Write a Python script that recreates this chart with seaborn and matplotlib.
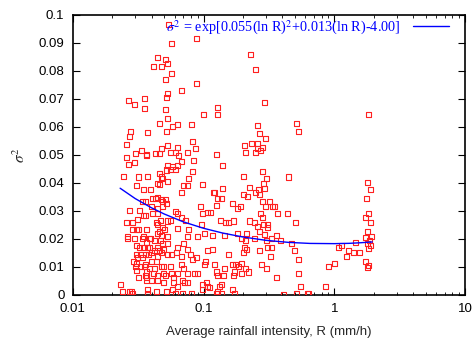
import matplotlib
matplotlib.use("Agg")
import matplotlib.pyplot as plt
import seaborn as sns
import pandas as pd

# ---- data ----
rain_R = [
    0.0268, 0.0297, 0.0354, 0.0354, 0.0277, 0.0272, 0.0374, 0.0258, 0.0336, 0.0302, 0.0367,
    0.0258, 0.0367, 0.0268, 0.0297, 0.0245, 0.0319, 0.0374, 0.0308, 0.0348, 0.0394,
    0.0342, 0.0272, 0.0325, 0.0348, 0.0361, 0.0313, 0.0287, 0.0258, 0.0287, 0.0308,
    0.0319, 0.0367, 0.0263, 0.0263, 0.0297, 0.0348, 0.0342, 0.0387, 0.0367, 0.0308,
    0.0325, 0.0348, 0.0374, 0.0308, 0.0330, 0.0361, 0.0380, 0.0313, 0.0342, 0.0292,
    0.0308, 0.0302, 0.0330, 0.0361, 0.0354, 0.0367, 0.0308, 0.0319, 0.0367, 0.0232,
    0.0241, 0.0282, 0.0272, 0.0287, 0.0374, 0.0374,
    0.0541, 0.0883, 0.0570, 0.0446, 0.0513, 0.0531, 0.0415, 0.0478, 0.0570, 0.0513,
    0.0883, 0.0679, 0.0531, 0.0522, 0.0513, 0.1000, 0.0531, 0.0462, 0.0633, 0.0580,
    0.0809, 0.0522, 0.0823, 0.0531, 0.0478, 0.0633, 0.0868, 0.0430, 0.0462, 0.0560,
    0.0611, 0.0754,
    0.0644, 0.0838, 0.0531, 0.0580, 0.0633, 0.0679, 0.0462, 0.0478, 0.0522, 0.0560,
    0.0611, 0.0487, 0.0531, 0.0446, 0.0462, 0.0823, 0.0768, 0.0754, 0.0703, 0.0679,
    0.0982, 0.1190, 0.0408, 0.0430, 0.0446, 0.0478, 0.0513, 0.0487, 0.0522, 0.0361,
    0.0401, 0.0446, 0.0487, 0.0408, 0.0446, 0.0611, 0.0633, 0.0948, 0.0982, 0.1073,
    0.0679, 0.0728, 0.0470, 0.0531, 0.0560, 0.0438, 0.0446, 0.0487, 0.0462, 0.0504,
    0.0633, 0.0768, 0.0965, 0.1018, 0.0446, 0.0478, 0.0531, 0.0754, 0.0899, 0.0423,
    0.0394, 0.0470, 0.0387, 0.0446, 0.0487, 0.0531, 0.0703, 0.0633, 0.0754, 0.1073,
    0.0401, 0.0423, 0.0462, 0.0495, 0.0478, 0.0446, 0.0531, 0.0570, 0.0622, 0.0679,
    0.0795, 0.0883, 0.0823, 0.1036, 0.1018, 0.0401, 0.0438, 0.0423, 0.0387, 0.0478,
    0.0495, 0.0560, 0.0679, 0.0703, 0.0361, 0.0415, 0.0446, 0.0495, 0.0513, 0.0570,
    0.0590, 0.0633, 0.0754, 0.0853, 0.0899, 0.0367, 0.0401, 0.0446, 0.0495, 0.0590,
    0.0691, 0.0716, 0.0754, 0.0982, 0.1054, 0.1073, 0.0982, 0.0633, 0.0580, 0.0522,
    0.0438, 0.0374, 0.0611, 0.0691, 0.0809,
    0.228, 0.249, 0.291, 0.128, 0.128, 0.258, 0.267, 0.296, 0.232, 0.258,
    0.205, 0.281, 0.258, 0.209, 0.249, 0.271, 0.126,
    0.140, 0.202, 0.281, 0.301, 0.286, 0.291, 0.224, 0.140, 0.121, 0.128,
    0.137, 0.202, 0.216, 0.249, 0.262, 0.267, 0.281, 0.317, 0.334, 0.296,
    0.166, 0.191, 0.181, 0.126, 0.113, 0.271, 0.365, 0.281, 0.135, 0.147,
    0.155, 0.169, 0.224, 0.245, 0.258, 0.286, 0.306, 0.306, 0.267, 0.291,
    0.181, 0.213, 0.117, 0.145, 0.359, 0.194, 0.209, 0.205, 0.213, 0.202,
    0.245, 0.301, 0.328, 0.267, 0.306, 0.328, 0.323, 0.117, 0.155, 0.121,
    0.145, 0.166, 0.175, 0.194, 0.184, 0.209, 0.276, 0.301, 0.126, 0.128,
    0.142, 0.172, 0.169, 0.194, 0.220, 0.359, 0.137, 0.133, 0.166, 0.128,
    0.126, 0.137, 0.172, 0.111,
    0.51, 0.53, 0.447, 0.346, 0.44, 0.502, 0.387, 0.47, 0.494, 0.53,
    0.53, 0.55, 0.51, 0.408, 0.62, 0.64, 0.85, 0.91, 1.00, 1.07,
    1.13, 1.23, 1.28, 1.45, 1.40, 1.55,
    1.84, 1.80, 1.88, 1.76, 1.84, 1.74, 1.90, 1.80, 1.92, 1.74,
    1.86, 1.78, 1.90, 1.82, 1.74, 1.84, 1.78,
]
sigma2 = [
    0.0695, 0.0681, 0.0702, 0.0667, 0.0585, 0.0567, 0.0581, 0.0538, 0.0517, 0.0506, 0.0503,
    0.0492, 0.0496, 0.0467, 0.0471, 0.0424, 0.0421, 0.0424, 0.0392, 0.0378, 0.0378,
    0.0332, 0.0303, 0.0303, 0.0285, 0.0285, 0.0271, 0.0257, 0.0257, 0.0232, 0.0235,
    0.0235, 0.0232, 0.0210, 0.0203, 0.0203, 0.0210, 0.0203, 0.0200, 0.0189, 0.0178,
    0.0171, 0.0171, 0.0168, 0.0146, 0.0146, 0.0143, 0.0143, 0.0135, 0.0135, 0.0121,
    0.0114, 0.0103, 0.0100, 0.0110, 0.0100, 0.0082, 0.0086, 0.0064, 0.0064, 0.0036,
    0.0014, 0.0011, 0.0011, 0.0007, 0.0021, 0.0007,
    0.0966, 0.0916, 0.0898, 0.0848, 0.0841, 0.0827, 0.0816, 0.0816, 0.0791, 0.0770,
    0.0756, 0.0731, 0.0720, 0.0706, 0.0663, 0.0645, 0.0631, 0.0613, 0.0610, 0.0602,
    0.0610, 0.0585, 0.0549, 0.0535, 0.0524, 0.0528, 0.0524, 0.0506, 0.0506, 0.0510,
    0.0510, 0.0510,
    0.0496, 0.0481, 0.0463, 0.0460, 0.0463, 0.0478, 0.0435, 0.0421, 0.0446, 0.0449,
    0.0449, 0.0414, 0.0406, 0.0399, 0.0396, 0.0442, 0.0417, 0.0392, 0.0389, 0.0364,
    0.0396, 0.0364, 0.0346, 0.0346, 0.0349, 0.0342, 0.0339, 0.0332, 0.0328, 0.0332,
    0.0314, 0.0310, 0.0314, 0.0289, 0.0292, 0.0299, 0.0292, 0.0314, 0.0292, 0.0296,
    0.0278, 0.0267, 0.0267, 0.0264, 0.0267, 0.0257, 0.0250, 0.0242, 0.0225, 0.0232,
    0.0239, 0.0235, 0.0250, 0.0221, 0.0221, 0.0214, 0.0207, 0.0207, 0.0210, 0.0196,
    0.0200, 0.0193, 0.0171, 0.0171, 0.0182, 0.0185, 0.0182, 0.0168, 0.0164, 0.0160,
    0.0153, 0.0160, 0.0160, 0.0164, 0.0150, 0.0139, 0.0143, 0.0146, 0.0150, 0.0139,
    0.0143, 0.0132, 0.0125, 0.0121, 0.0110, 0.0121, 0.0118, 0.0096, 0.0096, 0.0100,
    0.0103, 0.0103, 0.0107, 0.0093, 0.0071, 0.0078, 0.0068, 0.0078, 0.0068, 0.0078,
    0.0064, 0.0075, 0.0078, 0.0075, 0.0078, 0.0050, 0.0053, 0.0050, 0.0046, 0.0046,
    0.0050, 0.0043, 0.0046, 0.0039, 0.0043, 0.0029, 0.0021, 0.0029, 0.0021, 0.0014,
    0.0011, 0.0000, 0.0004, 0.0004, 0.0007,
    0.0859, 0.0806, 0.0688, 0.0670, 0.0645, 0.0606, 0.0578, 0.0560, 0.0542, 0.0542,
    0.0535, 0.0528, 0.0524, 0.0510, 0.0510, 0.0517, 0.0503,
    0.0463, 0.0424, 0.0442, 0.0414, 0.0399, 0.0381, 0.0385, 0.0381, 0.0364, 0.0346,
    0.0346, 0.0357, 0.0353, 0.0364, 0.0378, 0.0357, 0.0332, 0.0332, 0.0317, 0.0317,
    0.0328, 0.0317, 0.0307, 0.0321, 0.0296, 0.0289, 0.0289, 0.0275, 0.0267, 0.0260,
    0.0257, 0.0264, 0.0264, 0.0257, 0.0246, 0.0250, 0.0253, 0.0242, 0.0228, 0.0217,
    0.0221, 0.0221, 0.0214, 0.0214, 0.0214, 0.0200, 0.0193, 0.0171, 0.0164, 0.0153,
    0.0200, 0.0196, 0.0200, 0.0157, 0.0168, 0.0171, 0.0139, 0.0164, 0.0143, 0.0110,
    0.0096, 0.0107, 0.0110, 0.0114, 0.0100, 0.0093, 0.0107, 0.0096, 0.0082, 0.0068,
    0.0068, 0.0082, 0.0068, 0.0075, 0.0082, 0.0064, 0.0036, 0.0029, 0.0021, 0.0011,
    0.0004, 0.0007, 0.0004, 0.0025,
    0.0613, 0.0585, 0.0421, 0.0317, 0.0292, 0.0260, 0.0193, 0.0182, 0.0160, 0.0128,
    0.0078, 0.0032, 0.0007, 0.0000, 0.0004, 0.0007, 0.0029, 0.0100, 0.0114, 0.0171,
    0.0178, 0.0139, 0.0160, 0.0189, 0.0153, 0.0153,
    0.0645, 0.0400, 0.0375, 0.0345, 0.0290, 0.0275, 0.0260, 0.0225, 0.0210, 0.0205,
    0.0195, 0.0185, 0.0175, 0.0165, 0.0120, 0.0105, 0.0098,
]

# fitted curve
fit_R = [0.023, 0.03, 0.04, 0.05, 0.07, 0.1, 0.14, 0.2, 0.3, 0.45, 0.65, 1.0, 1.3, 1.6, 1.95]
fit_s2 = [0.0381, 0.0344, 0.0311, 0.0289, 0.0261, 0.0238, 0.0221, 0.0207, 0.0195,
          0.01876, 0.0184, 0.01832, 0.01843, 0.01865, 0.01893]

x_ticks = [0.01, 0.1, 1, 10]
x_ticklabels = ["0.01", "0.1", "1", "10"]
y_ticks = [0, 0.01, 0.02, 0.03, 0.04, 0.05, 0.06, 0.07, 0.08, 0.09, 0.1]
y_ticklabels = ["0", "0.01", "0.02", "0.03", "0.04", "0.05", "0.06", "0.07", "0.08", "0.09", "0.1"]

fit_label = r"$\sigma^2$ = exp[0.055(ln R)$^2$+0.013(ln R)-4.00]"
x_label = "Average rainfall intensity, R (mm/h)"

# ---- plotting ----
sns.set_style("ticks")
plt.rcParams["font.family"] = ["Liberation Sans", "DejaVu Sans"]
plt.rcParams["mathtext.fontset"] = "stix"

fig = plt.figure(figsize=(4.76, 3.43), dpi=100)
ax = fig.add_axes([0.153, 0.140, 0.824, 0.817])

pts = pd.DataFrame({"R": rain_R, "s2": sigma2})
fit = pd.DataFrame({"R": fit_R, "s2": fit_s2})

sns.scatterplot(data=pts, x="R", y="s2", marker="s", s=13, color="#ff0000",
                linewidth=0.8, ax=ax, zorder=3)
coll = ax.collections[0]
coll.set_facecolor("none")
coll.set_edgecolor("#ff2020")

sns.lineplot(data=fit, x="R", y="s2", color="#0000ff", linewidth=1.0, ax=ax,
             sort=False, zorder=4)

ax.set_xscale("log")
ax.set_xlim(0.01, 10)
ax.set_ylim(0, 0.1)
ax.set_xticks(x_ticks)
ax.set_xticklabels(x_ticklabels)
ax.set_yticks(y_ticks)
ax.set_yticklabels(y_ticklabels)
ax.yaxis.set_minor_locator(matplotlib.ticker.NullLocator())

ax.tick_params(which="both", direction="in", top=True, right=True, labelsize=9.5,
               colors="black")
ax.tick_params(which="major", length=5, width=0.8)
ax.tick_params(which="minor", length=2.5, width=0.6)
ax.tick_params(axis="x", which="major", pad=6)
ax.tick_params(axis="y", which="major", pad=6)

for sp in ax.spines.values():
    sp.set_linewidth(1.2)
    sp.set_color("black")

ax.set_xlabel(x_label, fontsize=9.5, labelpad=8)
ax.set_ylabel(r"$\sigma^2$", fontsize=11, rotation=90)
ax.yaxis.set_label_coords(-0.115, 0.5)

line = ax.lines[0]
leg = ax.legend([line], [fit_label], loc="upper right", frameon=False,
                markerfirst=False, handlelength=2.5, handletextpad=0.9,
                borderaxespad=0.0, borderpad=0.0,
                bbox_to_anchor=(0.959, 0.987),
                prop={"family": ["Liberation Serif", "DejaVu Serif"], "size": 10.3})
for t in leg.get_texts():
    t.set_color("#0000ff")

fig.savefig("out.png", dpi=100)
